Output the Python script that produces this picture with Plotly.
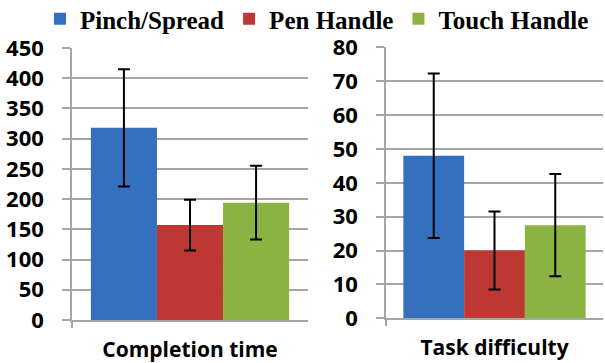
import plotly.graph_objects as go

series = ["Pinch/Spread", "Pen Handle", "Touch Handle"]
colors = ["#3570BE", "#BD3733", "#8BB344"]
metrics = ["Completion time", "Task difficulty"]
completion_time = [318, 157, 194]
completion_err = [97, 42, 61]
task_difficulty = [48, 20, 27.5]
difficulty_err = [24.3, 11.5, 15.1]
y1_ticks = [0, 50, 100, 150, 200, 250, 300, 350, 400, 450]
y2_ticks = [0, 10, 20, 30, 40, 50, 60, 70, 80]

fig = go.Figure()
for i, name in enumerate(series):
    fig.add_trace(go.Bar(
        x=[metrics[0]], y=[completion_time[i]], name=name, legendgroup=name,
        marker=dict(color=colors[i], line=dict(width=0)),
        error_y=dict(type="data", array=[completion_err[i]], color="black", thickness=2, width=6),
        xaxis="x", yaxis="y", showlegend=True))
    fig.add_trace(go.Bar(
        x=[metrics[1]], y=[task_difficulty[i]], name=name, legendgroup=name,
        marker=dict(color=colors[i], line=dict(width=0)),
        error_y=dict(type="data", array=[difficulty_err[i]], color="black", thickness=2, width=6),
        xaxis="x2", yaxis="y2", showlegend=False))

grid = "#A6A6A6"
tickfont = dict(family="Open Sans", size=22, color="black", weight="bold")
xfont = dict(family="Open Sans", size=21, color="black", weight="bold")
xcommon = dict(type="category", showline=True, linecolor=grid, linewidth=1.5,
               ticks="outside", tickson="boundaries", ticklen=6, tickcolor=grid, tickwidth=1.5,
               tickfont=xfont, ticklabelstandoff=10, showgrid=False, fixedrange=True)
ycommon = dict(showline=True, linecolor=grid, linewidth=1.5, showgrid=True, gridcolor=grid,
               gridwidth=1.5, ticks="outside", ticklen=8, tickcolor=grid, tickwidth=1.5,
               tickfont=tickfont, ticklabelstandoff=14, zeroline=False)

fig.update_layout(
    width=605, height=363,
    margin=dict(l=0, r=0, t=0, b=0, autoexpand=False),
    paper_bgcolor="white", plot_bgcolor="white",
    barmode="group", bargap=0.16, bargroupgap=0,
    xaxis=dict(domain=[72/605, 308/605], anchor="y", **xcommon),
    xaxis2=dict(domain=[386/605, 603/605], anchor="y2", **xcommon),
    yaxis=dict(domain=[1-320/363, 1-48/363], anchor="x", range=[0, 450], tickvals=y1_ticks, **ycommon),
    yaxis2=dict(domain=[1-318.3/363, 1-47.3/363], anchor="x2", range=[0, 80], tickvals=y2_ticks, **ycommon),
    legend=dict(orientation="h", x=40/605, y=1-19/363, xanchor="left", yanchor="middle",
                font=dict(family="Liberation Serif", size=25, color="black", weight="bold"),
                itemwidth=30, tracegroupgap=0, bgcolor="rgba(0,0,0,0)"),
    showlegend=True,
)

fig.write_html("out.html", config={"displayModeBar": False},
               post_script="document.body.style.margin='0';document.body.style.overflow='hidden';")
